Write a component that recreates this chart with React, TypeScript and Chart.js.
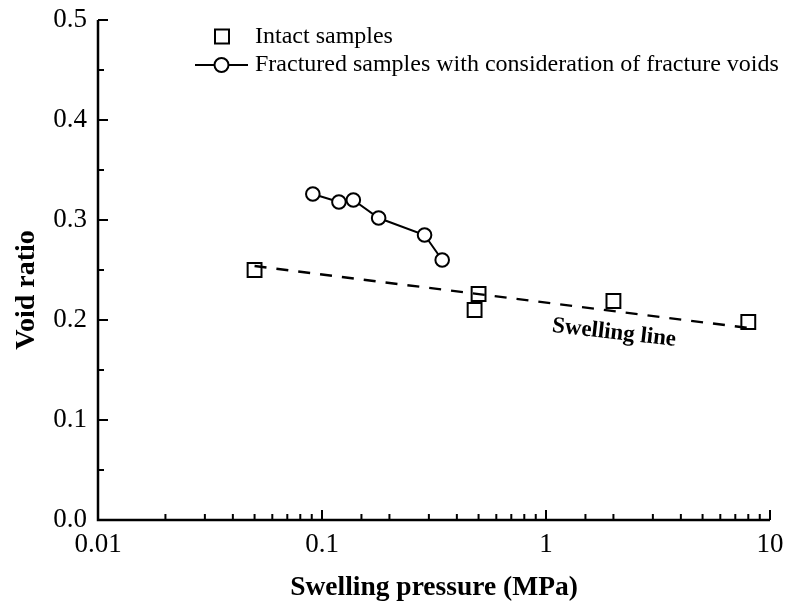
import React, { useEffect, useRef } from "react";
import { Chart, registerables } from "chart.js";

Chart.register(...registerables);

const intactX = [0.05, 0.48, 0.5, 2.0, 8.0];
const intactY = [0.25, 0.21, 0.226, 0.219, 0.198];
const fracX = [0.091, 0.119, 0.138, 0.179, 0.287, 0.344];
const fracY = [0.326, 0.318, 0.32, 0.302, 0.285, 0.26];
const swellX = [0.05, 8.0];
const swellY = [0.254, 0.192];
const yMinorTicks = [0.05, 0.15, 0.25, 0.35, 0.45];
const xMajorLabels = [0.01, 0.1, 1, 10];

const legendLabels = ["Intact samples", "Fractured samples with consideration of fracture voids"];
const xTitle = "Swelling pressure (MPa)";
const yTitle = "Void ratio";
const swellLabel = "Swelling line";

const SERIF = '"Liberation Serif", "DejaVu Serif", serif';

const zip = (xs: number[], ys: number[]) => xs.map((x, i) => ({ x, y: ys[i] }));

const decorPlugin = {
  id: "decor",
  afterDraw(chart: any) {
    const ctx = chart.ctx as CanvasRenderingContext2D;
    const xs = chart.scales.x;
    const ys = chart.scales.y;
    const { left, right, top, bottom } = chart.chartArea;
    ctx.save();
    ctx.strokeStyle = "#000";
    ctx.fillStyle = "#000";
    ctx.lineCap = "butt";
    // axes
    ctx.lineWidth = 2.5;
    ctx.beginPath();
    ctx.moveTo(left, top);
    ctx.lineTo(left, bottom);
    ctx.lineTo(right, bottom);
    ctx.stroke();
    // y ticks
    ctx.lineWidth = 2;
    ctx.beginPath();
    ys.ticks.forEach((t: any) => {
      const p = ys.getPixelForValue(t.value);
      ctx.moveTo(left, p);
      ctx.lineTo(left + 10, p);
    });
    yMinorTicks.forEach((v) => {
      const p = ys.getPixelForValue(v);
      ctx.moveTo(left, p);
      ctx.lineTo(left + 6, p);
    });
    // x ticks
    xs.ticks.forEach((t: any) => {
      const v = t.value;
      const lg = Math.log10(v);
      const major = Math.abs(lg - Math.round(lg)) < 1e-6;
      const p = xs.getPixelForValue(v);
      ctx.moveTo(p, bottom);
      ctx.lineTo(p, bottom - (major ? 10 : 6));
    });
    ctx.stroke();

    // y title
    ctx.save();
    ctx.translate(27, 290);
    ctx.rotate(-Math.PI / 2);
    ctx.font = `bold 28px ${SERIF}`;
    ctx.textAlign = "center";
    ctx.textBaseline = "middle";
    ctx.fillText(yTitle, 0, 0);
    ctx.restore();

    // swelling line label
    ctx.save();
    ctx.translate(614, 333);
    ctx.rotate((6.5 * Math.PI) / 180);
    ctx.font = `bold 23px ${SERIF}`;
    ctx.textAlign = "center";
    ctx.textBaseline = "middle";
    ctx.fillText(swellLabel, 0, 0);
    ctx.restore();

    // legend
    ctx.lineWidth = 2;
    ctx.strokeRect(222 - 7, 36.5 - 7, 14, 14);
    ctx.beginPath();
    ctx.moveTo(195, 65);
    ctx.lineTo(248, 65);
    ctx.stroke();
    ctx.beginPath();
    ctx.arc(221.5, 65, 7, 0, Math.PI * 2);
    ctx.fillStyle = "#fff";
    ctx.fill();
    ctx.stroke();
    ctx.fillStyle = "#000";
    ctx.font = `24px ${SERIF}`;
    ctx.textAlign = "left";
    ctx.textBaseline = "middle";
    ctx.fillText(legendLabels[0], 255, 36.5);
    ctx.fillText(legendLabels[1], 255, 65);
    ctx.restore();
  },
};

export default function App() {
  const ref = useRef<HTMLCanvasElement | null>(null);
  useEffect(() => {
    if (!ref.current) return;
    const chart = new Chart(ref.current, {
      type: "scatter",
      data: {
        datasets: [
          {
            label: legendLabels[0],
            data: zip(intactX, intactY),
            pointStyle: "rect",
            pointRadius: 9.8,
            pointHoverRadius: 9.8,
            borderColor: "#000",
            backgroundColor: "rgba(0,0,0,0)",
            borderWidth: 2,
            showLine: false,
          },
          {
            label: legendLabels[1],
            data: zip(fracX, fracY),
            pointStyle: "circle",
            pointRadius: 6.8,
            pointHoverRadius: 6.8,
            borderColor: "#000",
            pointBackgroundColor: "#fff",
            backgroundColor: "#fff",
            borderWidth: 2,
            showLine: true,
          },
          {
            label: swellLabel,
            data: zip(swellX, swellY),
            pointRadius: 0,
            borderColor: "#000",
            borderWidth: 2.4,
            borderDash: [12, 10],
            showLine: true,
          },
        ],
      },
      options: {
        responsive: false,
        animation: false,
        devicePixelRatio: 1,
        layout: { padding: { top: 20, right: 17, left: 0, bottom: 0 } },
        plugins: { legend: { display: false }, tooltip: { enabled: false } },
        events: [],
        scales: {
          x: {
            type: "logarithmic",
            min: 0.01,
            max: 10,
            grid: { display: false, drawTicks: false },
            border: { display: false },
            afterFit: (s: any) => {
              s.height = 90;
              s.paddingLeft = 0;
              s.paddingRight = 0;
            },
            ticks: {
              autoSkip: false,
              maxRotation: 0,
              padding: 9,
              color: "#000",
              font: { family: SERIF, size: 27 },
              callback: (v: any) => {
                const n = Number(v);
                return xMajorLabels.some((m) => Math.abs(m - n) < 1e-9) ? String(n) : "";
              },
            },
            title: {
              display: true,
              text: xTitle,
              color: "#000",
              font: { family: SERIF, size: 27.5, weight: "bold" },
              padding: { top: 0, bottom: 6 },
            },
          },
          y: {
            type: "linear",
            min: 0,
            max: 0.5,
            grid: { display: false, drawTicks: false },
            border: { display: false },
            afterFit: (s: any) => {
              s.width = 98;
              s.paddingTop = 0;
              s.paddingBottom = 0;
            },
            ticks: {
              stepSize: 0.1,
              padding: 11,
              color: "#000",
              font: { family: SERIF, size: 27 },
              callback: (v: any) => Number(v).toFixed(1),
            },
            title: { display: false },
          },
        },
      },
      plugins: [decorPlugin],
    });
    return () => chart.destroy();
  }, []);
  return (
    <div style={{ position: "absolute", left: 0, top: 0, width: 787, height: 610, background: "#fff" }}>
      <canvas ref={ref} width={787} height={610} style={{ display: "block" }} />
    </div>
  );
}
